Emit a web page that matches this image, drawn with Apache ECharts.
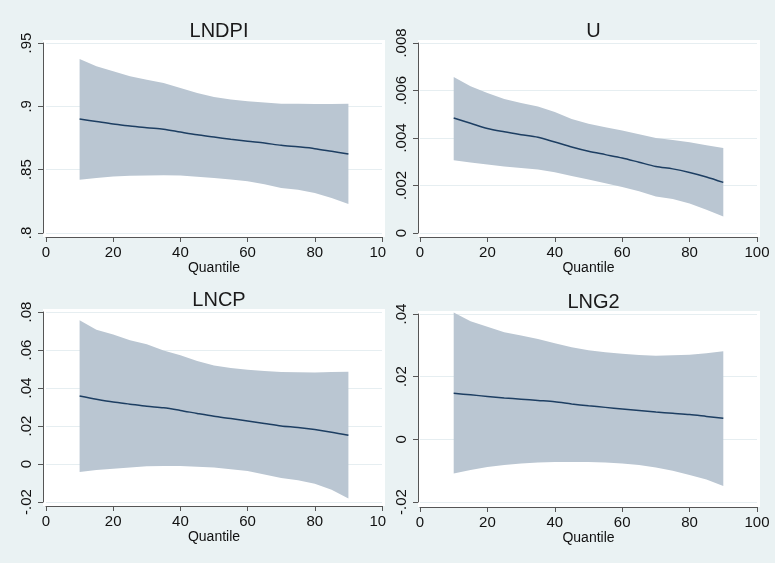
<!DOCTYPE html>
<html>
<head>
<meta charset="UTF-8">
<title>Quantile plots</title>
<script src="https://cdn.jsdelivr.net/npm/echarts@6/dist/echarts.min.js"></script>
<style>
  html, body { margin: 0; padding: 0; background: #eaf2f3; }
  #main { width: 775px; height: 563px; }
</style>
</head>
<body>
<div id="main"></div>
<script>
// quantiles
var quantiles = [10, 15, 20, 25, 30, 35, 40, 45, 50, 55, 60, 65, 70, 75, 80, 85, 90];

// LNDPI
var lndpiEst = [.890, .888, .886, .8845, .883, .882, .8797, .8775, .8758, .874, .8724, .871, .8692, .868, .8666, .8645, .8624];
var lndpiUp  = [.9374, .9316, .9276, .9237, .921, .9184, .9145, .9105, .9074, .9053, .904, .903, .9021, .902, .9018, .9019, .902];
var lndpiLo  = [.8421, .8435, .8447, .8452, .8453, .8455, .8453, .8445, .8434, .8422, .8408, .8385, .8355, .8342, .8316, .8276, .8229];
var lndpiTicks = [.8, .85, .9, .95];
var lndpiLabels = ['.8', '.85', '.9', '.95'];

// U
var uEst = [.00484, .00462, .0044, .00426, .00414, .00403, .00383, .00362, .00344, .0033, .00316, .00298, .0028, .0027, .00255, .00236, .00213];
var uUp  = [.00657, .00618, .0059, .00564, .00547, .00533, .0051, .0048, .0046, .00445, .00432, .00416, .004, .00392, .00382, .0037, .00358];
var uLo  = [.00306, .00297, .00288, .0028, .00274, .00267, .00256, .0024, .00225, .0021, .00194, .00176, .00154, .00143, .00124, .00098, .0007];
var uTicks = [0, .002, .004, .006, .008];
var uLabels = ['0', '.002', '.004', '.006', '.008'];

// LNCP
var lncpEst = [.0358, .0341, .0326, .0315, .0304, .0296, .0282, .0266, .0251, .0239, .0226, .0213, .02, .0192, .0181, .0167, .0151];
var lncpUp  = [.0756, .0707, .0682, .0651, .063, .0598, .0572, .0542, .0519, .0505, .0496, .049, .0484, .0483, .0482, .0484, .0486];
var lncpLo  = [-.0042, -.0032, -.0025, -.0018, -.0012, -.0011, -.0011, -.0014, -.0019, -.0027, -.0037, -.0055, -.0074, -.0086, -.0104, -.0135, -.0182];
var lncpTicks = [-.02, 0, .02, .04, .06, .08];
var lncpLabels = ['-.02', '0', '.02', '.04', '.06', '.08'];

// LNG2
var lng2Est = [.0147, .0142, .0137, .0132, .0128, .0124, .012, .0113, .0107, .0102, .0097, .0092, .0087, .0083, .0079, .0073, .0067];
var lng2Up  = [.0405, .0377, .0359, .0342, .0331, .032, .0307, .0294, .0284, .0278, .0273, .0269, .0267, .0268, .027, .0275, .0281];
var lng2Lo  = [-.0109, -.0098, -.0088, -.0082, -.0077, -.0074, -.0072, -.0072, -.0072, -.0074, -.0077, -.0082, -.009, -.01, -.0114, -.0128, -.0149];
var lng2Ticks = [-.02, 0, .02, .04];
var lng2Labels = ['-.02', '0', '.02', '.04'];

var BG = '#eaf2f3';
var BAND = '#bac6d2';
var LINE = '#1d3e62';
var AXIS = '#555';
var FONT = 'Liberation Sans, Arial, sans-serif';

var panels = [
  { name: 'LNDPI', est: lndpiEst, up: lndpiUp, lo: lndpiLo, ticks: lndpiTicks, labels: lndpiLabels,
    grid: { left: 46, top: 43, width: 336, height: 190 }, xOff: 4, yOff: 3, gap: 23, right: false },
  { name: 'U', est: uEst, up: uUp, lo: uLo, ticks: uTicks, labels: uLabels,
    grid: { left: 420, top: 43, width: 337, height: 190 }, xOff: 4, yOff: 2, gap: 23, right: true },
  { name: 'LNCP', est: lncpEst, up: lncpUp, lo: lncpLo, ticks: lncpTicks, labels: lncpLabels,
    grid: { left: 46, top: 312, width: 336, height: 190 }, xOff: 4, yOff: 3, gap: 24, right: false },
  { name: 'LNG2', est: lng2Est, up: lng2Up, lo: lng2Lo, ticks: lng2Ticks, labels: lng2Labels,
    grid: { left: 420, top: 314, width: 337, height: 188 }, xOff: 5, yOff: 2, gap: 23, right: true }
];

function labelFor(ticks, labels) {
  return function (v) {
    for (var i = 0; i < ticks.length; i++) {
      if (Math.abs(v - ticks[i]) < 1e-9) return labels[i];
    }
    return '';
  };
}

// band polygon: upper edge left->right then lower edge right->left
function bandRenderer(p) {
  return function (params, api) {
    if (params.dataIndex !== 0) return;
    var pts = [];
    for (var i = 0; i < quantiles.length; i++) pts.push(api.coord([quantiles[i], p.up[i]]));
    for (var j = quantiles.length - 1; j >= 0; j--) pts.push(api.coord([quantiles[j], p.lo[j]]));
    return { type: 'polygon', shape: { points: pts }, style: { fill: BAND, stroke: null } };
  };
}

var grids = [], xAxes = [], yAxes = [], series = [], titles = [], graphics = [];

// cover for the right half so the left "100" gets clipped like the original
graphics.push({ type: 'rect', z: 5, shape: { x: 386, y: 0, width: 389, height: 563 }, style: { fill: BG } });

panels.forEach(function (p, k) {
  var zb = p.right ? 6 : 1;
  var g = p.grid;
  graphics.push({
    type: 'rect', z: zb,
    shape: { x: g.left - p.yOff, y: g.top - 3, width: g.width + p.yOff + 3, height: g.height + 3 + p.xOff },
    style: { fill: '#fff' }
  });
  grids.push({ left: g.left, top: g.top, width: g.width, height: g.height, z: zb });
  xAxes.push({
    gridIndex: k, type: 'value', min: 0, max: 100, interval: 20, offset: p.xOff, z: zb + 1,
    name: 'Quantile', nameLocation: 'middle', nameGap: p.gap,
    nameTextStyle: { fontFamily: FONT, fontSize: 14, color: '#111' },
    axisLine: { show: true, onZero: false, lineStyle: { color: AXIS, width: 1 } },
    axisTick: { show: true, length: 5, lineStyle: { color: AXIS } },
    axisLabel: { fontFamily: FONT, fontSize: 15, color: '#111', margin: 8 },
    splitLine: { show: false }
  });
  yAxes.push({
    gridIndex: k, type: 'value', min: p.ticks[0], max: p.ticks[p.ticks.length - 1],
    interval: p.ticks[1] - p.ticks[0], offset: p.yOff, z: zb + 1,
    axisLine: { show: true, onZero: false, lineStyle: { color: AXIS, width: 1 } },
    axisTick: { show: true, length: 5, lineStyle: { color: AXIS } },
    axisLabel: { fontFamily: FONT, fontSize: 15, color: '#111', rotate: 90, margin: 9,
      formatter: labelFor(p.ticks, p.labels) },
    splitLine: { show: true, lineStyle: { color: '#e6eef1', width: 1 } }
  });
  series.push({
    type: 'custom', xAxisIndex: k, yAxisIndex: k, z: zb + 2, silent: true,
    data: quantiles.map(function (q, i) { return [q, p.lo[i], p.up[i]]; }),
    encode: { x: 0, y: [1, 2] },
    renderItem: bandRenderer(p)
  });
  series.push({
    type: 'line', xAxisIndex: k, yAxisIndex: k,
    data: quantiles.map(function (q, i) { return [q, p.est[i]]; }),
    showSymbol: false, smooth: 0.3, z: zb + 3,
    lineStyle: { color: LINE, width: 1.5 }, silent: true
  });
  titles.push({
    text: p.name, left: g.left + g.width / 2, top: g.top - 27, textAlign: 'center', z: 12,
    textStyle: { fontFamily: FONT, fontSize: 20, fontWeight: 'normal', color: '#1a1a1a' }
  });
});

var myChart = echarts.init(document.getElementById('main'), null, { renderer: 'canvas' });
myChart.setOption({
  backgroundColor: BG,
  animation: false,
  title: titles,
  grid: grids,
  xAxis: xAxes,
  yAxis: yAxes,
  series: series,
  graphic: { elements: graphics }
});
</script>
</body>
</html>
